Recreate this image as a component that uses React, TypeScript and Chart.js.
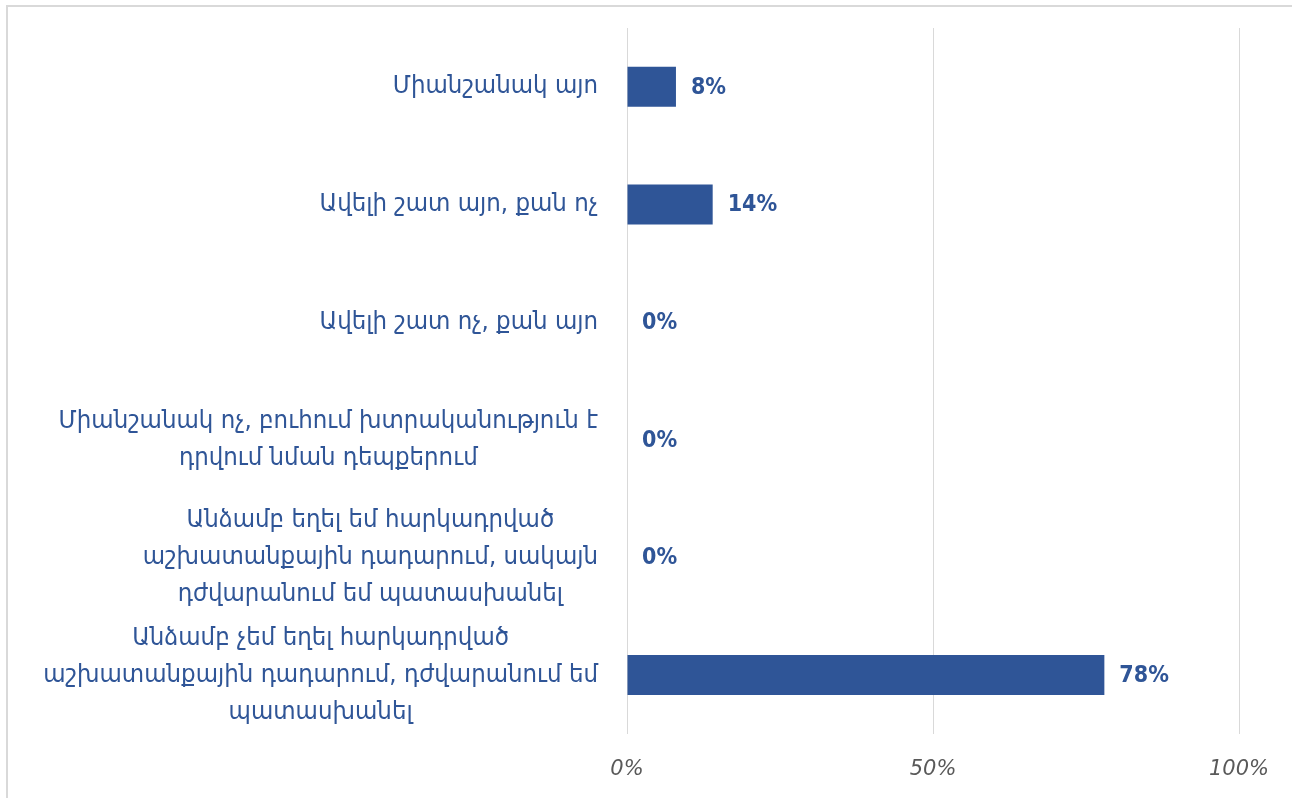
import React, { useEffect, useRef } from "react";
import { Chart, registerables } from "chart.js";

Chart.register(...registerables);

const categories: string[][] = [
  ["Միանշանակ այո"],
  ["Ավելի շատ այո, քան ոչ"],
  ["Ավելի շատ ոչ, քան այո"],
  ["Միանշանակ ոչ, բուհում խտրականություն է", "դրվում նման դեպքերում"],
  ["Անձամբ եղել եմ հարկադրված", "աշխատանքային դադարում, սակայն", "դժվարանում եմ պատասխանել"],
  ["Անձամբ չեմ եղել հարկադրված", "աշխատանքային դադարում, դժվարանում եմ", "պատասխանել"],
];
const values: number[] = [8, 14, 0, 0, 0, 78];
const xTicks: number[] = [0, 50, 100];

const BLUE = "#2F5597";
const LABEL_FONT = "25.5px 'DejaVu Sans Condensed', 'DejaVu Sans', sans-serif";
const VALUE_FONT = "bold 23px 'DejaVu Sans Condensed', 'DejaVu Sans', sans-serif";

const labelPlugin = {
  id: "customLabels",
  afterDraw(chart: any) {
    const ctx = chart.ctx;
    const ys = chart.scales.y;
    const xs = chart.scales.x;
    const area = chart.chartArea;
    ctx.save();
    // category labels
    ctx.font = LABEL_FONT;
    ctx.fillStyle = BLUE;
    ctx.textAlign = "center";
    ctx.textBaseline = "middle";
    const LH = 37;
    categories.forEach((lines, i) => {
      const maxW = Math.max(...lines.map((l) => ctx.measureText(l).width));
      const cx = area.left - 29 - maxW / 2;
      const cy = ys.getPixelForValue(i);
      lines.forEach((l, j) => {
        ctx.fillText(l, cx, cy + (j - (lines.length - 1) / 2) * LH);
      });
    });
    // value labels
    ctx.font = VALUE_FONT;
    ctx.textAlign = "left";
    values.forEach((v, i) => {
      const x = xs.getPixelForValue(v) + 15;
      const y = ys.getPixelForValue(i);
      ctx.fillText(v + "%", x, y + 1);
    });
    ctx.restore();
  },
};

export default function App() {
  const ref = useRef<HTMLCanvasElement | null>(null);
  useEffect(() => {
    if (!ref.current) return;
    const chart = new Chart(ref.current, {
      type: "bar",
      data: {
        labels: categories.map((c) => c.join(" ")),
        datasets: [
          {
            data: values,
            backgroundColor: BLUE,
            barThickness: 40,
            inflateAmount: 0,
          },
        ],
      },
      options: {
        indexAxis: "y",
        animation: false,
        responsive: true,
        maintainAspectRatio: false,
        layout: { padding: { left: 611, top: 21, right: 55, bottom: 10 } },
        plugins: { legend: { display: false }, tooltip: { enabled: false } },
        scales: {
          x: {
            min: 0,
            max: 100,
            afterBuildTicks: (s: any) => {
              s.ticks = xTicks.map((v) => ({ value: v }));
            },
            ticks: {
              callback: (v: any) => v + "%",
              color: "#595959",
              font: { family: "'DejaVu Sans', sans-serif", size: 21, style: "italic" },
              padding: 23,
              maxRotation: 0,
            },
            grid: { color: "#d9d9d9", lineWidth: 1, drawTicks: false },
            border: { display: false },
          },
          y: {
            ticks: { display: false },
            grid: { display: false },
            border: { display: false },
          },
        },
      },
      plugins: [labelPlugin],
    });
    return () => chart.destroy();
  }, []);
  return (
    <div
      style={{
        position: "absolute",
        left: 6,
        top: 5,
        width: 1300,
        height: 830,
        borderLeft: "2px solid #d9d9d9",
        borderTop: "2px solid #d9d9d9",
        background: "#fff",
      }}
    >
      <div style={{ width: 1286, height: 808 }}>
        <canvas ref={ref} />
      </div>
    </div>
  );
}
